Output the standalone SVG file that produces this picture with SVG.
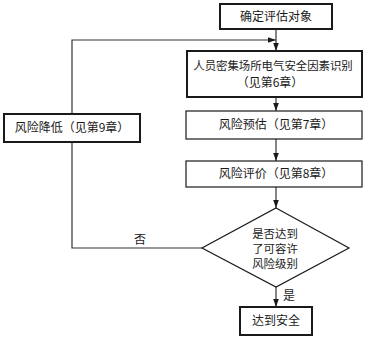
<svg xmlns="http://www.w3.org/2000/svg" width="382" height="341" viewBox="0 0 382 341">
<defs>
<style>
.box{fill:#fff;stroke:#1a1a1a;stroke-width:1.2}
.bold{stroke-width:2}
.t{font-family:"Noto Sans CJK SC","Noto Sans",sans-serif;font-size:12px;fill:#1a1a1a;text-anchor:middle}
.s{font-size:11.4px}
.ln{fill:none;stroke:#333;stroke-width:1.2}
</style>
<marker id="ah" viewBox="0 0 10 10" refX="10" refY="5" markerWidth="8" markerHeight="8" markerUnits="userSpaceOnUse" orient="auto">
<path d="M0,1.5 L10,5 L0,8.5 z" fill="#1a1a1a"/>
</marker>
</defs>
<rect width="382" height="341" fill="#fff"/>
<g id="connectors">
<line class="ln" x1="276" y1="29" x2="276" y2="51" marker-end="url(#ah)"/>
<polyline class="ln" points="202,248 72,248 72,40 276,40" marker-end="url(#ah)"/>
<line class="ln" x1="276" y1="97" x2="276" y2="111" marker-end="url(#ah)"/>
<line class="ln" x1="276" y1="139" x2="276" y2="161" marker-end="url(#ah)"/>
<line class="ln" x1="276" y1="187" x2="276" y2="208" marker-end="url(#ah)"/>
<line class="ln" x1="276" y1="287" x2="276" y2="307" marker-end="url(#ah)"/>
<text class="t" x="140" y="244">否</text>
<text class="t" x="289" y="300">是</text>
</g>
<g id="n1"><rect class="box bold" x="220" y="4" width="112" height="25"/><text class="t" x="276" y="21">确定评估对象</text></g>
<g id="n2"><rect class="box bold" x="187" y="51" width="175" height="46"/><text class="t s" x="273" y="70">人员密集场所电气安全因素识别</text><text class="t" x="270" y="87">（见第6章）</text></g>
<g id="n3"><rect class="box" x="186" y="111" width="176" height="28"/><text class="t" x="276" y="129">风险预估（见第7章）</text></g>
<g id="n4"><rect class="box" x="186" y="161" width="176" height="26"/><text class="t" x="276" y="178">风险评价（见第8章）</text></g>
<g id="n6"><rect class="box bold" x="4" y="114" width="136" height="28"/><text class="t" x="72" y="132">风险降低（见第9章）</text></g>
<g id="n5"><polygon class="box" points="276,208 349,248 276,287 202,248"/><text class="t s" x="275" y="238">是否达到</text><text class="t s" x="275" y="253">了可容许</text><text class="t s" x="275" y="268">风险级别</text></g>
<g id="n7"><rect class="box bold" x="240" y="307" width="72" height="28"/><text class="t" x="276" y="325">达到安全</text></g>
</svg>
